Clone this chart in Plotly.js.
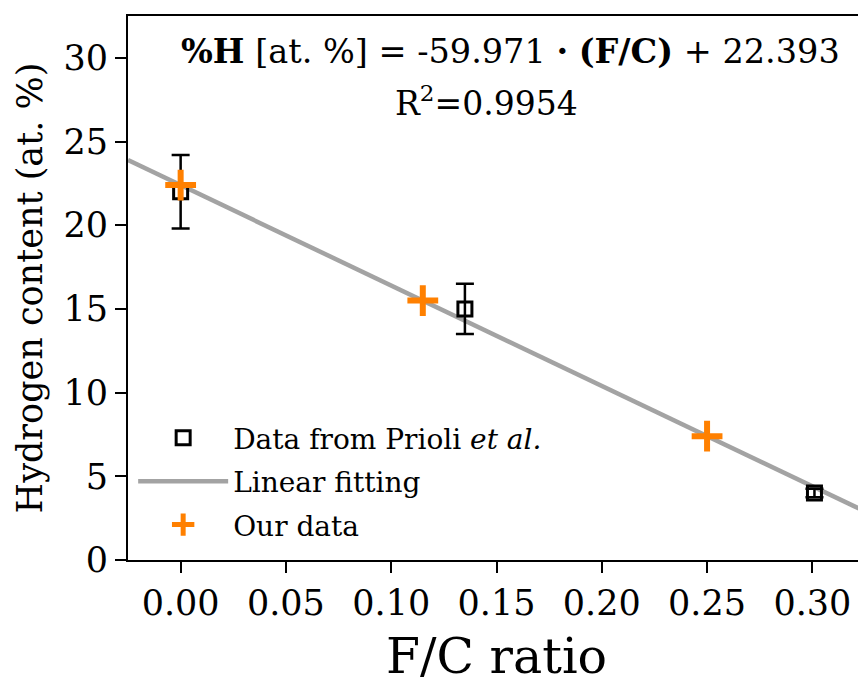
<!DOCTYPE html>
<html>
<head>
<meta charset="utf-8">
<script src="https://cdn.plot.ly/plotly-3.0.1.min.js"></script>
<style>
html,body{margin:0;padding:0;overflow:hidden;background:#fff;}
#chart{width:872px;height:684px;}
</style>
</head>
<body>
<div id="chart"></div>
<script>
// Data from Prioli et al.
const prioliX = [0.0, 0.135, 0.301];
const prioliY = [22.0, 15.0, 4.0];
const prioliErr = [2.2, 1.5, 0.25];
// Our data
const oursX = [0.0, 0.115, 0.25];
const oursY = [22.4, 15.5, 7.4];
// Linear fit parameters
const fitSlope = -59.971;
const fitIntercept = 22.393;
const fitX = [-0.025, 0.33];
const fitY = fitX.map(x => fitSlope * x + fitIntercept);

const FONT = "DejaVu Serif, Liberation Serif, serif";

const traces = [
  {
    x: fitX, y: fitY, mode: "lines", name: "Linear fitting",
    line: {color: "#a3a3a3", width: 4.5}, legendrank: 2, legendgroup: "b", hoverinfo: "skip"
  },
  {
    x: prioliX, y: prioliY, mode: "markers", name: "Data from Prioli <i>et al.</i>",
    marker: {symbol: "square-open", size: 14, color: "#000", line: {width: 3, color: "#000"}},
    error_y: {type: "data", array: prioliErr, visible: true, color: "#000", thickness: 2.5, width: 9},
    legendrank: 1, legendgroup: "a"
  },
  {
    x: oursX, y: oursY, mode: "markers", name: "Our data",
    marker: {symbol: "cross-thin", size: 22, color: "#ff8000", line: {width: 6, color: "#ff8000"}},
    legendrank: 3, legendgroup: "c"
  }
];

const layout = {
  width: 872, height: 684,
  margin: {l: 128, r: 7, t: 16, b: 124},
  paper_bgcolor: "#fff", plot_bgcolor: "#fff",
  font: {family: FONT, color: "#000", size: 35},
  showlegend: true,
  legend: {
    x: 0.007, y: 0.27, xanchor: "left", yanchor: "top",
    font: {family: FONT, size: 28, color: "#000"},
    bgcolor: "rgba(0,0,0,0)", itemwidth: 90, tracegroupgap: 4, traceorder: "grouped"
  },
  xaxis: {
    range: [-0.025, 0.325],
    tickvals: [0, 0.05, 0.10, 0.15, 0.20, 0.25, 0.30],
    ticktext: ["0.00","0.05","0.10","0.15","0.20","0.25","0.30"],
    ticks: "outside", ticklen: 11, tickwidth: 2, tickcolor: "#000",
    showline: true, linewidth: 2, linecolor: "#000", mirror: true,
    showgrid: false, zeroline: false,
    tickfont: {family: FONT, size: 35, color: "#000"}
  },
  yaxis: {
    range: [0, 32.5],
    tickvals: [0, 5, 10, 15, 20, 25, 30],
    ticks: "outside", ticklen: 11, tickwidth: 2, tickcolor: "#000",
    showline: true, linewidth: 2, linecolor: "#000", mirror: true,
    showgrid: false, zeroline: false,
    tickfont: {family: FONT, size: 35, color: "#000"},
    title: {text: "Hydrogen content (at. %)", font: {family: FONT, size: 35, color: "#000"}, standoff: 10}
  },
  annotations: [
    {
      xref: "paper", yref: "paper", x: 0.5, y: -0.177, xanchor: "center", yanchor: "middle",
      text: "F/C ratio",
      showarrow: false, font: {family: FONT, size: 49, color: "#000"}
    },
    {
      xref: "paper", yref: "paper", x: 0.519, y: 0.935, xanchor: "center", yanchor: "middle",
      text: "<b>%H</b> [at. %] = -59.971 <b>·</b> <b>(F/C)</b> + 22.393",
      showarrow: false, font: {family: FONT, size: 33.5, color: "#000"}
    },
    {
      xref: "paper", yref: "paper", x: 0.487, y: 0.843, xanchor: "center", yanchor: "middle",
      text: "R<sup>2</sup>=0.9954",
      showarrow: false, font: {family: FONT, size: 33, color: "#000"}
    }
  ]
};

Plotly.newPlot("chart", traces, layout, {displayModeBar: false, staticPlot: true});
</script>
</body>
</html>
